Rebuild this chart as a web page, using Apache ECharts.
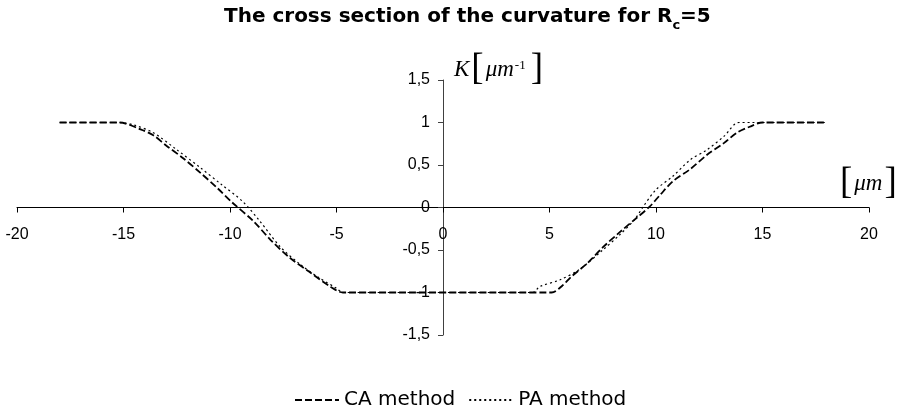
<!DOCTYPE html>
<html>
<head>
<meta charset="utf-8">
<script src="https://cdn.jsdelivr.net/npm/echarts@6/dist/echarts.min.js"></script>
<style>
  html, body { margin: 0; padding: 0; background: #fff; }
  #chart { width: 898px; height: 414px; }
</style>
</head>
<body>
<div id="chart"></div>
<script>
// Curvature cross sections, x in micrometres
const caX = [-18, -15.2, -14.2, -13.6, -13.0, -12.2, -11.4, -10.6, -9.9, -8.9, -8.1, -7.2, -6.2, -5.3, -4.7,
             5.1, 5.6, 6.0, 6.8, 7.5, 8.3, 9.1, 9.7, 10.2, 10.8, 11.6, 12.4, 13.2, 13.8, 14.4, 15.0, 18];
const caY = [1, 1, 0.92, 0.85, 0.73, 0.58, 0.41, 0.23, 0.06, -0.16, -0.38, -0.59, -0.77, -0.93, -1,
             -1, -0.92, -0.82, -0.65, -0.47, -0.29, -0.12, 0.01, 0.15, 0.31, 0.45, 0.62, 0.76, 0.88, 0.95, 1, 1];

const paX = [-18, -15.2, -14.5, -13.6, -12.5, -11.4, -10.4, -9.4, -8.6, -7.65, -6.7, -5.8, -5.0, -4.7,
             4.2, 4.55, 5.5, 6.4, 7.5, 8.3, 9.0, 9.4, 10.0, 10.8, 11.6, 12.4, 13.2, 13.9, 18];
const paY = [1, 1, 0.97, 0.88, 0.68, 0.47, 0.27, 0.07, -0.16, -0.46, -0.67, -0.83, -0.95, -1,
             -1, -0.93, -0.85, -0.73, -0.5, -0.32, -0.14, 0.01, 0.21, 0.37, 0.56, 0.68, 0.84, 1, 1];

const seriesNames = ['CA method', 'PA method'];

const zip = (xs, ys) => xs.map((x, i) => [x, ys[i]]);
const comma = v => String(v).replace('.', ',');

const GRID = { left: 17, top: 80, width: 852, height: 255 };

const chart = echarts.init(document.getElementById('chart'), null, { renderer: 'canvas' });

const labelFont = { fontFamily: 'Liberation Sans, Arial, sans-serif', fontSize: 16, color: '#000' };
const serif = 'Liberation Serif, serif';

chart.setOption({
  animation: false,
  backgroundColor: '#fff',
  title: {
    text: 'The cross section of the curvature for R{sub|c}=5',
    left: 219,
    top: 2,
    textStyle: {
      fontFamily: 'DejaVu Sans, sans-serif',
      fontSize: 20,
      fontWeight: 'bold',
      color: '#000',
      rich: {
        sub: {
          fontFamily: 'DejaVu Sans, sans-serif',
          fontSize: 13,
          fontWeight: 'bold',
          color: '#000',
          verticalAlign: 'bottom',
          padding: [0, 0, -5, 0]
        }
      }
    }
  },
  legend: {
    top: 385,
    left: 289,
    itemWidth: 44,
    itemHeight: 12,
    itemGap: 13,
    itemStyle: { color: 'rgba(0,0,0,0)', borderWidth: 0 },
    textStyle: { fontFamily: 'DejaVu Sans, sans-serif', fontSize: 20, color: '#000' },
    data: seriesNames
  },
  grid: Object.assign({ containLabel: false }, GRID),
  xAxis: {
    type: 'value',
    min: -20, max: 20, interval: 5,
    position: 'bottom',
    offset: -GRID.height / 2,
    axisLine: { onZero: false, lineStyle: { color: '#000', width: 1 } },
    axisTick: { show: true, length: 5, inside: false, lineStyle: { color: '#000' } },
    axisLabel: Object.assign({ margin: 19, formatter: comma }, labelFont),
    splitLine: { show: false }
  },
  yAxis: {
    type: 'value',
    min: -1.5, max: 1.5, interval: 0.5,
    position: 'left',
    offset: -GRID.width / 2,
    axisLine: { onZero: false, lineStyle: { color: '#404040', width: 1 } },
    axisTick: { show: true, length: 5, inside: false, lineStyle: { color: '#404040' } },
    axisLabel: Object.assign({ margin: 13, formatter: comma }, labelFont),
    splitLine: { show: false }
  },
  graphic: [
    {
      // vertical axis name: K [μm^-1]
      type: 'text',
      left: 454, top: 51,
      style: {
        text: '{k|K}{b|[}{u|μm}{s|-1}{b|]}',
        rich: {
          k: { fontFamily: serif, fontStyle: 'italic', fontSize: 23, fill: '#000', verticalAlign: 'middle', lineHeight: 36 },
          b: { fontFamily: serif, fontSize: 37, fill: '#000', verticalAlign: 'middle', lineHeight: 36, padding: [0, 2, 0, 2] },
          u: { fontFamily: serif, fontStyle: 'italic', fontSize: 23, fill: '#000', verticalAlign: 'middle', lineHeight: 36 },
          s: { fontFamily: serif, fontSize: 13, fill: '#000', verticalAlign: 'top', lineHeight: 14, padding: [8, 3, 0, 1] }
        }
      }
    },
    {
      // horizontal axis name: [μm]
      type: 'text',
      left: 838, top: 165,
      style: {
        text: '{b|[}{u|μm}{b|]}',
        rich: {
          b: { fontFamily: serif, fontSize: 37, fill: '#000', verticalAlign: 'middle', lineHeight: 36, padding: [0, 2, 0, 2] },
          u: { fontFamily: serif, fontStyle: 'italic', fontSize: 23, fill: '#000', verticalAlign: 'middle', lineHeight: 36 }
        }
      }
    }
  ],
  series: [
    {
      name: seriesNames[0],
      type: 'line',
      data: zip(caX, caY),
      showSymbol: false,
      symbol: 'none',
      smooth: 0.3,
      lineStyle: { color: '#000', width: 1.8, type: [7, 3] },
      itemStyle: { color: '#000' },
      z: 3
    },
    {
      name: seriesNames[1],
      type: 'line',
      data: zip(paX, paY),
      showSymbol: false,
      symbol: 'none',
      smooth: 0.3,
      lineStyle: { color: '#000', width: 1.2, type: [2, 3] },
      itemStyle: { color: '#000' },
      z: 2
    }
  ]
});
</script>
</body>
</html>
